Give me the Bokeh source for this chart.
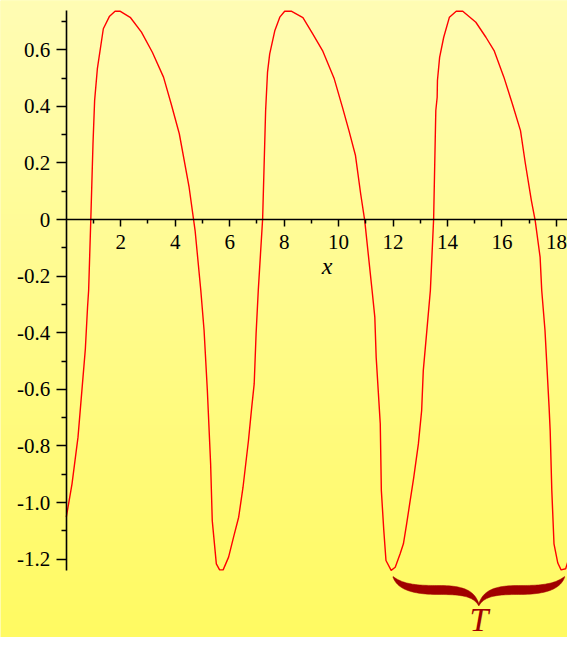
import numpy as np
from bokeh.plotting import figure
from bokeh.models import FixedTicker, Label
from bokeh.embed import file_html
from bokeh.resources import INLINE

# ---- data ----
x_vals = [0, 0.21, 0.43, 0.70, 0.78, 0.82,
          0.90, 0.98, 1.04, 1.14, 1.36, 1.58, 1.79, 1.97, 2.36, 2.76, 3.16, 3.57, 3.85, 4.15, 4.51, 4.73,
          4.94,
          5.06, 5.18, 5.30, 5.36, 5.51, 5.63, 5.76, 5.96, 6.14,
          6.33, 6.49, 6.69, 6.81, 6.90, 6.97, 7.05,
          7.21, 7.32, 7.39, 7.47, 7.66, 7.84, 8.02, 8.26, 8.69, 9.05, 9.41, 9.84, 10.14, 10.38, 10.62, 10.81, 10.96, 11.23,
          11.33, 11.38, 11.53, 11.57, 11.66, 11.74, 11.93, 12.08, 12.26, 12.38, 12.50,
          12.61, 12.76, 12.93, 13.05, 13.11, 13.23, 13.37,
          13.49, 13.57, 13.62, 13.63, 13.71, 13.86, 14.07, 14.32, 14.56, 15.04, 15.41, 15.71, 16.07, 16.38, 16.68, 16.86, 17.08, 17.22, 17.40, 17.46,
          17.58, 17.73, 17.77, 17.83, 17.91, 18.05, 18.17, 18.34, 18.43, 18.61, 18.77]
y_vals = [-1.052, -0.934, -0.769, -0.457, -0.31, -0.251,
          0.0, 0.267, 0.42, 0.532, 0.674, 0.717, 0.736, 0.736, 0.713, 0.662, 0.591, 0.503, 0.409, 0.303, 0.114, -0.039,
          -0.251,
          -0.392, -0.604, -0.863, -1.064, -1.217, -1.238, -1.238, -1.193, -1.123,
          -1.052, -0.946, -0.781, -0.663, -0.581, -0.404, -0.251,
          0.002, 0.385, 0.521, 0.585, 0.668, 0.715, 0.736, 0.736, 0.713, 0.656, 0.597, 0.497, 0.397, 0.314, 0.226, 0.091, -0.004, -0.251,
          -0.345, -0.487, -0.722, -0.958, -1.099, -1.205, -1.240, -1.229, -1.181, -1.146, -1.075,
          -1.005, -0.911, -0.793, -0.675, -0.534, -0.404, -0.251,
          0.002, 0.385, 0.432, 0.491, 0.573, 0.644, 0.715, 0.736, 0.736, 0.697, 0.644, 0.597, 0.503, 0.409, 0.314, 0.197, 0.067, -0.004, -0.133, -0.251,
          -0.392, -0.663, -0.746, -0.958, -1.146, -1.214, -1.238, -1.234, -1.205, -1.158, -1.075]

x_tick_values = [2, 4, 6, 8, 10, 12, 14, 16, 18]
x_tick_labels = ["2", "4", "6", "8", "10", "12", "14", "16", "18"]
y_tick_values = [0.6, 0.4, 0.2, 0.0, -0.2, -0.4, -0.6, -0.8, -1.0, -1.2]
y_tick_labels = ["0.6", "0.4", "0.2", "0", "-0.2", "-0.4", "-0.6", "-0.8", "-1.0", "-1.2"]
x_axis_title = "x"
period_text = "T"
period_span = (12.0, 18.3)   # brace extent in x units (one period)

# ---- layout (pixels) ----
W, H = 567, 637
PX_X = 27.23          # pixels per x unit
PX_Y = 283.0          # pixels per y unit
OX = 65.8             # x=0 position from figure left
OY = 219.0            # y=0 position from figure top

x_start = -OX / PX_X
x_end = (W - OX) / PX_X
y_end = OY / PX_Y
y_start = -(H - OY) / PX_Y


def dx(px):
    return (px - OX) / PX_X


def dy(py):
    return (OY - py) / PX_Y


p = figure(width=W, height=H, x_range=(x_start, x_end), y_range=(y_start, y_end),
           output_backend="svg", toolbar_location=None, min_border=0)
p.outline_line_color = None
p.grid.visible = False
p.background_fill_color = "#FFFC8A"
p.border_fill_color = "#FFFC8A"

# vertical gradient background
n = 256
top = np.array([255, 253, 180], dtype=float)
bot = np.array([255, 250, 98], dtype=float)
t = np.linspace(0, 1, n)
cols = bot[None, :] + (top - bot)[None, :] * t[:, None]
img = np.zeros((n, 1), dtype=np.uint32)
view = img.view(dtype=np.uint8).reshape((n, 1, 4))
view[:, 0, 0] = cols[:, 0].astype(np.uint8)
view[:, 0, 1] = cols[:, 1].astype(np.uint8)
view[:, 0, 2] = cols[:, 2].astype(np.uint8)
view[:, 0, 3] = 255
p.image_rgba(image=[img], x=x_start, y=y_start, dw=x_end - x_start, dh=y_end - y_start)

# curve
p.line(x_vals, y_vals, line_color="#FF0000", line_width=1.4)

# axes through the origin
xa = p.xaxis[0]
ya = p.yaxis[0]
xa.fixed_location = 0
ya.fixed_location = 0
xa.ticker = FixedTicker(ticks=x_tick_values, minor_ticks=[v - 1 for v in x_tick_values])
ya.ticker = FixedTicker(ticks=y_tick_values,
                        minor_ticks=[round(v + 0.1, 1) for v in y_tick_values])
xa.major_label_overrides = {v: s for v, s in zip(x_tick_values, x_tick_labels)}
ya.major_label_overrides = {v: s for v, s in zip(y_tick_values, y_tick_labels)}
xa.bounds = (0, x_end)
ya.bounds = (-1.242, 0.737)
for ax in (xa, ya):
    ax.axis_line_color = "black"
    ax.axis_line_width = 1.6
    ax.major_tick_line_color = "black"
    ax.major_tick_line_width = 1.5
    ax.minor_tick_line_color = "black"
    ax.minor_tick_line_width = 1.5
    ax.major_tick_in = 0
    ax.minor_tick_in = 0
    ax.major_label_text_font = "Liberation Serif"
    ax.major_label_text_font_size = "21px"
    ax.major_label_text_color = "black"
ya.major_tick_out = 10
ya.minor_tick_out = 5
ya.major_label_standoff = 6
xa.major_tick_out = 7
xa.minor_tick_out = 4
xa.major_label_standoff = 8

p.add_layout(Label(x=dx(326.5), y=dy(265), text=x_axis_title, text_font="Liberation Serif",
                   text_font_style="italic", text_font_size="24px", text_color="black",
                   text_align="center", text_baseline="alphabetic"))


# curly brace under one period
def cubic(p0, p1, p2, p3, m=30):
    s = np.linspace(0, 1, m)[:, None]
    P = [np.array(q, dtype=float) for q in (p0, p1, p2, p3)]
    return ((1 - s) ** 3) * P[0] + 3 * ((1 - s) ** 2) * s * P[1] + 3 * (1 - s) * s ** 2 * P[2] + s ** 3 * P[3]


half = 97.0
upperL = np.vstack([cubic((-97, 0), (-85, 8), (-70, 9), (-45, 9)),
                    cubic((-45, 9), (-15, 9), (-5, 15), (0, 27))])
lowerL = np.vstack([cubic((0, 29.5), (-6, 20), (-18, 18), (-45, 18)),
                    cubic((-45, 18), (-78, 18), (-92, 12), (-97, 1))])
upperR = upperL[::-1] * np.array([-1, 1])
lowerR = lowerL[::-1] * np.array([-1, 1])
poly = np.vstack([upperL, upperR, lowerR, lowerL])
brace_top = 576.0
cx_px = OX + PX_X * (period_span[0] + period_span[1]) / 2
scale = (period_span[1] - period_span[0]) * PX_X / (2 * half)
bx = [dx(cx_px + q[0] * scale) for q in poly]
by = [dy(brace_top + q[1]) for q in poly]
p.patch(bx, by, fill_color="#A00000", line_color="#A00000", line_width=0.5)

p.add_layout(Label(x=dx(cx_px), y=dy(619), text=period_text, text_font="Liberation Serif",
                   text_font_style="italic", text_font_size="34px", text_color="#A00000",
                   text_align="center", text_baseline="alphabetic"))

open("out.html", "w").write(file_html(p, INLINE))
